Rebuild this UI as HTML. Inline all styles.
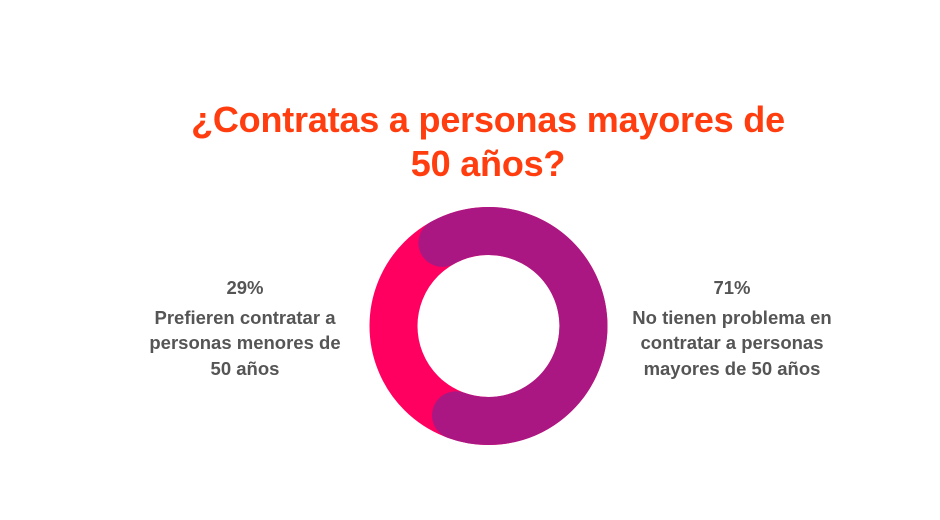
<!DOCTYPE html>
<html><head><meta charset="utf-8"><style>
html,body{margin:0;padding:0;background:#fff;}
body{width:940px;height:520px;position:relative;overflow:hidden;font-family:"Liberation Sans",sans-serif;}
.t{position:absolute;left:0;width:976px;text-align:center;color:#ff3d0f;font-weight:bold;font-size:36px;letter-spacing:-0.2px;}
.l{position:absolute;width:280px;text-align:center;color:#555;font-weight:bold;font-size:18.5px;line-height:25.5px;}
</style></head><body>
<div class="t" style="top:99px;">¿Contratas a personas mayores de</div>
<div class="t" style="top:143px;">50 años?</div>
<svg width="940" height="520" style="position:absolute;left:0;top:0">
<circle cx="488.5" cy="326" r="95" fill="none" stroke="#ff0060" stroke-width="48"/>
<path d="M442.4 242.9 A95 95 0 1 1 456 415.3" fill="none" stroke="#ab1782" stroke-width="48" stroke-linecap="round"/>
</svg>
<div class="l" style="left:105px;top:275px;"><div style="margin-bottom:4px">29%</div>Prefieren contratar a<br>personas menores de<br>50 años</div>
<div class="l" style="left:592px;top:275px;"><div style="margin-bottom:4px">71%</div>No tienen problema en<br>contratar a personas<br>mayores de 50 años</div>
</body></html>
